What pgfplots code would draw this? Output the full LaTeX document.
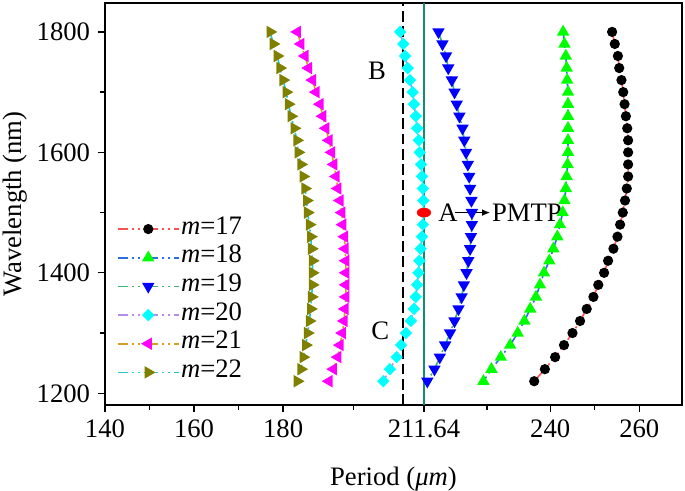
\documentclass[border=0pt]{standalone}
\usepackage{fontspec}
\setmainfont{Liberation Serif}
\usepackage{pgfplots}
\pgfplotsset{compat=1.18}
\usetikzlibrary{arrows.meta}
\definecolor{c17}{RGB}{255,80,80}
\definecolor{c18}{RGB}{40,110,230}
\definecolor{c19}{RGB}{60,179,113}
\definecolor{c20}{RGB}{180,140,235}
\definecolor{c21}{RGB}{212,160,30}
\definecolor{c22}{RGB}{30,200,200}
\definecolor{mk18}{RGB}{0,255,0}
\definecolor{mk19}{RGB}{0,0,255}
\definecolor{mk20}{RGB}{0,255,255}
\definecolor{mk21}{RGB}{255,0,255}
\definecolor{mk22}{RGB}{128,128,0}
\definecolor{vline}{RGB}{20,140,110}
\pgfplotsset{ddot/.style={line width=1.2pt, dash pattern=on 7.5pt off 3pt on 1.5pt off 3pt on 1.5pt off 3pt}}
\begin{document}
\begin{tikzpicture}[font=\fontsize{20}{23}\selectfont]
\begin{axis}[name=ax, scale only axis, width=432.75pt, height=301.5pt,
  xmin=140, xmax=269.6, ymin=1180.5, ymax=1848,
  xtick={140,160,180,211.64,240,260}, xticklabels={140,160,180,211.64,240,260},
  ytick={1200,1400,1600,1800}, yticklabels={1200,1400,1600,1800},
  minor xtick={150,170,195.82,225.82,250}, minor ytick={1300,1500,1700},
  tick pos=left, tick align=outside, major tick length=5pt, minor tick length=3.5pt,
  axis line style={line width=1pt}, every tick/.style={black, line width=1pt},
  /pgf/number format/assume math mode=true,
  xticklabel style={anchor=base, inner sep=0pt, yshift=-19.5pt},
  yticklabel style={anchor=east, inner sep=0pt, xshift=-6pt},
  xlabel={Period (\textit{μm})},
  xlabel style={at={(axis description cs:0.5,-0.199)}, anchor=base, inner sep=0pt},
  ylabel={Wavelength (nm)},
  ylabel style={at={(axis description cs:-0.156,0.5)}, anchor=center, inner sep=0pt},
  legend style={at={(axis description cs:0.02,0.474)}, anchor=north west, draw=none, fill=none,
    row sep=0pt, inner sep=0pt, nodes={inner sep=1pt, text height=13.5pt, text depth=6pt}},
  legend cell align=left,
  legend image code/.code={%
    \draw[#1, mark=none] (0pt,0pt) -- (23pt,0pt);
    \draw[#1, mark=none] (23pt,0pt) -- (46pt,0pt);
    \draw[#1, draw=none] plot coordinates {(23pt,0pt)};},
]
\addplot[c17, ddot, mark=*, mark size=3.2pt, mark options={solid, fill=black, draw=black}] table[row sep=\\] {
x y\\ 253.9 1800\\ 254.5 1780\\ 255.2 1760\\ 255.5 1740\\ 256.0 1720\\ 256.4 1700\\ 256.7 1680\\ 257.0 1660\\ 257.3 1640\\ 257.5 1620\\
257.5 1600\\ 257.5 1580\\ 257.5 1560\\ 257.2 1540\\ 256.8 1520\\ 256.3 1500\\ 255.7 1480\\ 255.1 1460\\ 254.2 1440\\ 253.0 1420\\
252.1 1400\\ 250.8 1380\\ 249.7 1360\\ 248.2 1340\\ 246.7 1320\\ 245.0 1300\\ 243.1 1280\\ 241.1 1260\\ 238.8 1240\\ 236.4 1220\\
};
\addlegendentry{\textit{m}=17}
\addplot[c18, ddot, mark=triangle*, mark size=4.2pt, mark options={solid, fill=mk18, draw=mk18}] table[row sep=\\] {
x y\\ 242.9 1800\\ 243.2 1780\\ 243.5 1760\\ 243.7 1740\\ 243.8 1720\\ 244.0 1700\\ 244.0 1680\\ 244.0 1660\\ 244.0 1640\\ 244.0 1620\\
244.0 1600\\ 243.9 1580\\ 243.7 1560\\ 243.5 1540\\ 243.2 1520\\ 242.8 1500\\ 242.2 1480\\ 241.6 1460\\ 240.7 1440\\ 239.8 1420\\
238.6 1400\\ 237.7 1380\\ 236.8 1360\\ 235.5 1340\\ 234.2 1320\\ 232.7 1300\\ 231.0 1280\\ 228.9 1260\\ 226.8 1240\\ 225.0 1220\\
};
\addlegendentry{\textit{m}=18}
\addplot[c19, ddot, mark=triangle*, mark size=4.2pt, mark options={solid, rotate=180, fill=mk19, draw=mk19}] table[row sep=\\] {
x y\\ 214.9 1800\\ 215.8 1780\\ 216.6 1760\\ 217.1 1740\\ 217.9 1720\\ 218.5 1700\\ 219.0 1680\\ 219.6 1660\\ 220.3 1640\\ 220.7 1620\\
221.1 1600\\ 221.5 1580\\ 221.8 1560\\ 222.0 1540\\ 222.3 1520\\ 222.4 1500\\ 222.4 1480\\ 222.2 1460\\ 222.0 1440\\ 221.6 1420\\
221.2 1400\\ 220.6 1380\\ 220.1 1360\\ 219.4 1340\\ 218.5 1320\\ 217.5 1300\\ 216.4 1280\\ 215.2 1260\\ 214.0 1240\\ 212.4 1220\\
};
\addlegendentry{\textit{m}=19}
\addplot[c20, ddot, mark=square*, mark size=2.7pt, mark options={solid, rotate=45, fill=mk20, draw=mk20}] table[row sep=\\] {
x y\\ 206.3 1800\\ 207.0 1780\\ 207.4 1760\\ 208.0 1740\\ 208.5 1720\\ 209.1 1700\\ 209.4 1680\\ 209.8 1660\\ 210.1 1640\\ 210.5 1620\\
210.7 1600\\ 211.0 1580\\ 211.2 1560\\ 211.4 1540\\ 211.5 1520\\ 211.6 1500\\ 211.4 1480\\ 211.2 1460\\ 210.9 1440\\ 210.6 1420\\
210.4 1400\\ 210.1 1380\\ 209.8 1360\\ 209.4 1340\\ 208.7 1320\\ 207.6 1300\\ 206.5 1280\\ 205.5 1260\\ 204.0 1240\\ 202.5 1220\\
};
\addlegendentry{\textit{m}=20}
\addplot[c21, ddot, mark=triangle*, mark size=4.2pt, mark options={solid, rotate=90, fill=mk21, draw=mk21}] table[row sep=\\] {
x y\\ 183.2 1800\\ 184.0 1780\\ 184.9 1760\\ 185.7 1740\\ 186.6 1720\\ 187.4 1700\\ 188.3 1680\\ 188.9 1660\\ 189.6 1640\\ 190.3 1620\\
190.9 1600\\ 191.4 1580\\ 191.9 1560\\ 192.3 1540\\ 192.8 1520\\ 193.2 1500\\ 193.4 1480\\ 193.8 1460\\ 193.9 1440\\ 194.1 1420\\
194.1 1400\\ 194.1 1380\\ 194.1 1360\\ 193.9 1340\\ 193.7 1320\\ 193.3 1300\\ 192.8 1280\\ 192.3 1260\\ 191.3 1240\\ 190.3 1220\\
};
\addlegendentry{\textit{m}=21}
\addplot[c22, ddot, mark=triangle*, mark size=4.2pt, mark options={solid, rotate=-90, fill=mk22, draw=mk22}] table[row sep=\\] {
x y\\ 177.1 1800\\ 177.8 1780\\ 178.7 1760\\ 179.3 1740\\ 180.0 1720\\ 180.7 1700\\ 181.2 1680\\ 181.8 1660\\ 182.5 1640\\ 183.1 1620\\
183.4 1600\\ 184.0 1580\\ 184.5 1560\\ 184.9 1540\\ 185.3 1520\\ 185.5 1500\\ 185.9 1480\\ 186.2 1460\\ 186.4 1440\\ 186.6 1420\\
186.6 1400\\ 186.6 1380\\ 186.4 1360\\ 186.2 1340\\ 185.9 1320\\ 185.5 1300\\ 185.1 1280\\ 184.5 1260\\ 184.0 1240\\ 183.2 1220\\
};
\addlegendentry{\textit{m}=22}
\addplot[black, line width=1.5pt, dash pattern=on 8pt off 3.5pt, forget plot] coordinates {(207,1180.5) (207,1848)};
\addplot[vline, line width=1.5pt, forget plot] coordinates {(211.64,1180.5) (211.64,1848)};
\addplot[only marks, mark=*, mark size=3.4pt, mark options={fill=red, draw=red, xscale=1.5}, forget plot] coordinates {(211.64,1500)};
\node[anchor=west, inner sep=0pt] at (axis cs:214.8,1500) {A};
\draw[line width=0.9pt, -{Latex[length=6pt, width=5pt]}] (axis cs:218.6,1500) -- (axis cs:226.5,1500);
\node[anchor=west, inner sep=0pt] at (axis cs:226.9,1500) {PMTP};
\node at (axis cs:201.1,1736) {B};
\node at (axis cs:201.8,1303) {C};
\end{axis}
\path (ax.south west) ++(-78.75pt,-61.5pt);
\path (ax.north east) ++(2.25pt,2.25pt);
\end{tikzpicture}
\end{document}
